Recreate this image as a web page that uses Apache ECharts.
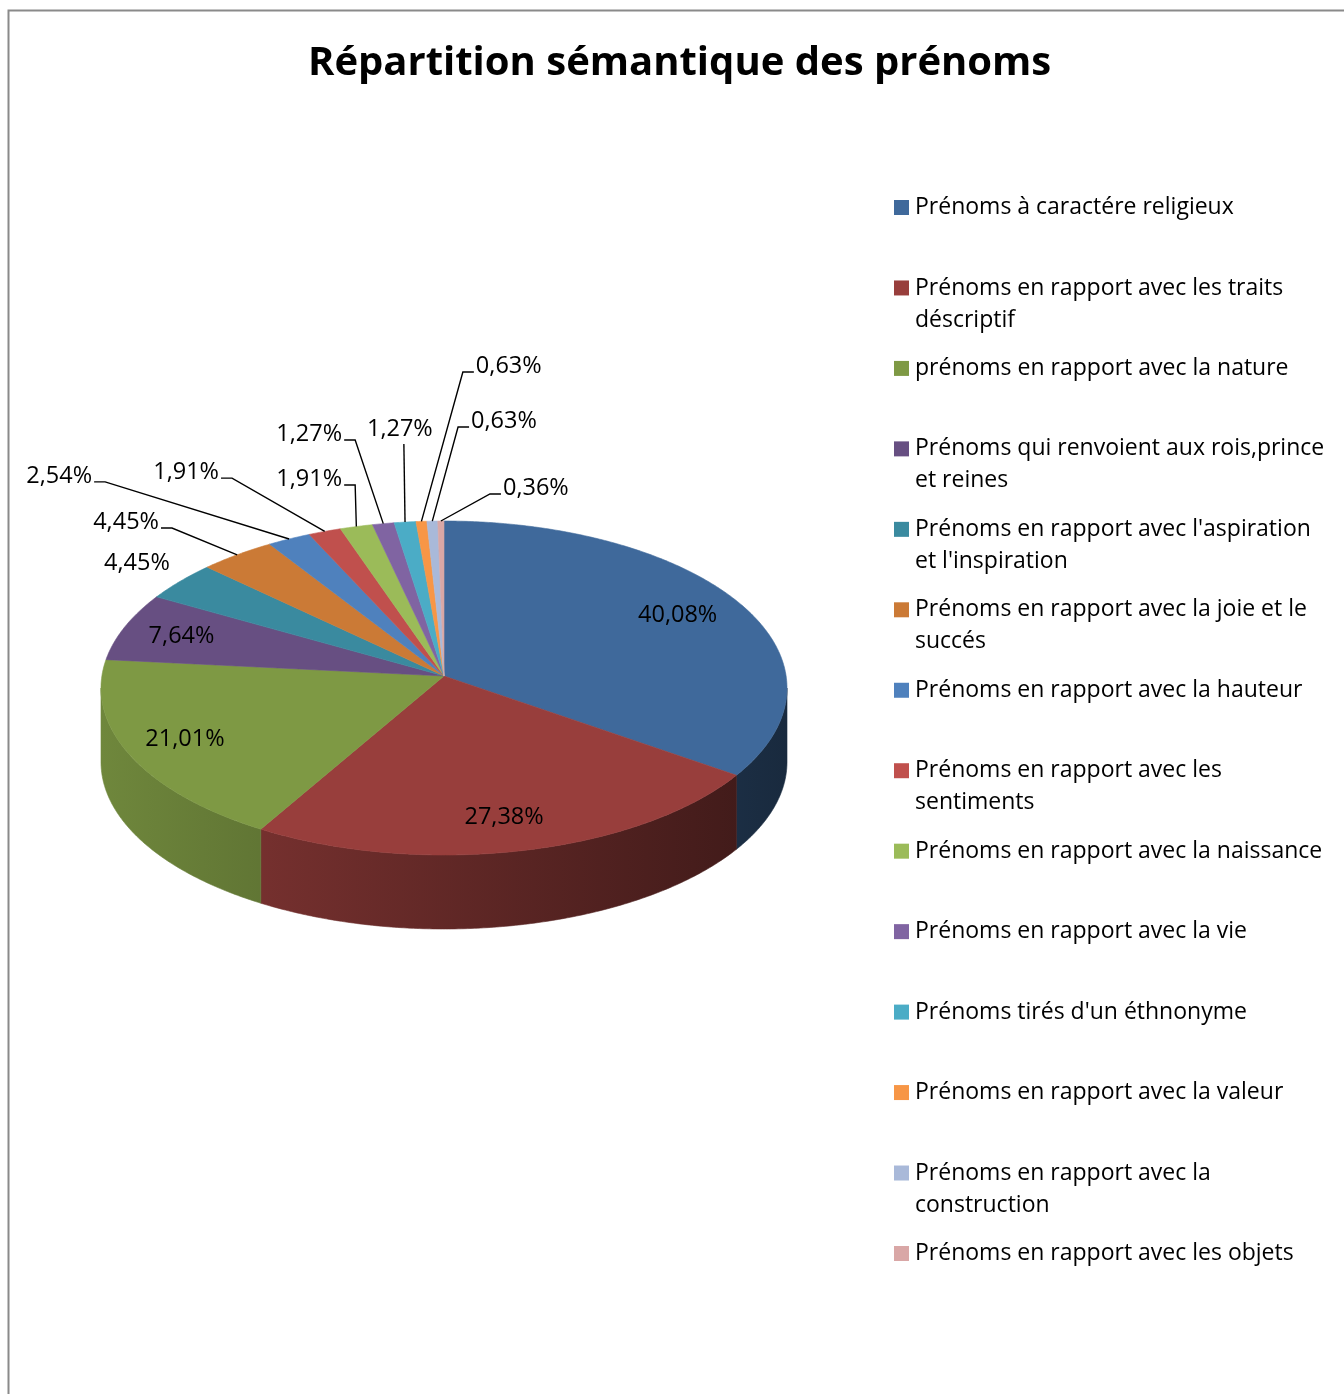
<!DOCTYPE html>
<html>
<head>
<meta charset="utf-8">
<script src="https://cdn.jsdelivr.net/npm/echarts@6/dist/echarts.min.js"></script>
<style>
html,body{margin:0;padding:0;background:#ffffff;}
#chart{width:1344px;height:1394px;}
</style>
</head>
<body>
<div id="chart"></div>
<script>
// ---------- data ----------
const categories = [
  "Prénoms à caractére religieux",
  "Prénoms en rapport avec les traits\ndéscriptif",
  "prénoms en rapport avec la nature",
  "Prénoms qui renvoient aux rois,prince\net reines",
  "Prénoms en rapport avec l'aspiration\net l'inspiration",
  "Prénoms en rapport avec la joie et le\nsuccés",
  "Prénoms en rapport avec la hauteur",
  "Prénoms en rapport avec les\nsentiments",
  "Prénoms en rapport avec la naissance",
  "Prénoms en rapport avec la vie",
  "Prénoms tirés d'un éthnonyme",
  "Prénoms en rapport avec la valeur",
  "Prénoms en rapport avec la\nconstruction",
  "Prénoms en rapport avec les objets"
];
const values = [40.08, 27.38, 21.01, 7.64, 4.45, 4.45, 2.54, 1.91, 1.91, 1.27, 1.27, 0.63, 0.63, 0.36];
const colors = ['#3F699B','#983E3C','#7E9944','#674F82','#3A8A9F','#CB7A36','#4F81BD','#C0504D','#9BBB59','#8064A2','#4BACC6','#F79646','#A9B9D9','#D9A7A6'];
const titleText = "Répartition sémantique des prénoms";

// ---------- layout (not data) ----------
const PIE = { cx: 444, cy: 688, rx: 343, ry: 167, vertexDy: -12, depth: 74 };
// outside-label elbow placement, in pie-normalised units (relative to ellipse centre)
const labelPlace = [
  null, null, null, null,
  { mode: 'free',  x: -0.895, y: -0.749 },
  { mode: 'left',  x: -0.793, y: -0.958 },
  { mode: 'left',  x: -0.988, y: -1.234 },
  { mode: 'left',  x: -0.618, y: -1.257 },
  { mode: 'left',  x: -0.259, y: -1.216 },
  { mode: 'left',  x: -0.259, y: -1.485 },
  { mode: 'up',    x: -0.117, y: -1.461 },
  { mode: 'right', x:  0.055, y: -1.892 },
  { mode: 'right', x:  0.041, y: -1.563 },
  { mode: 'right', x:  0.134, y: -1.162 }
];
const FONT = '"Open Sans", "Noto Sans", sans-serif';
const LABEL_FONT = '23.5px ' + FONT;
const LEGEND_FONT = '23px ' + FONT;

const total = values.reduce((a, b) => a + b, 0);
const cumStart = [];
values.reduce((acc, v, i) => { cumStart[i] = acc; return acc + v; }, 0);

function shade(hex, f) {
  const n = parseInt(hex.slice(1), 16);
  const r = Math.round(((n >> 16) & 255) * f), g = Math.round(((n >> 8) & 255) * f), b = Math.round((n & 255) * f);
  return 'rgb(' + r + ',' + g + ',' + b + ')';
}
const vy = PIE.vertexDy / PIE.ry;
function normEdge(theta) {
  const r = theta * Math.PI / 180;
  const dx = Math.sin(r), dy = -Math.cos(r);
  const b = vy * dy;
  const t = -b + Math.sqrt(b * b - vy * vy + 1);
  return { u: t * dx, v: vy + t * dy, t: t, dx: dx, dy: dy };
}
function px(u, v) { return [PIE.cx + PIE.rx * u, PIE.cy + PIE.ry * v]; }
function edgePt(theta) { const e = normEdge(theta); return px(e.u, e.v); }
function arc(a0, a1) {
  const pts = [];
  const n = Math.max(2, Math.ceil((a1 - a0) / 0.5));
  for (let k = 0; k <= n; k++) pts.push(edgePt(a0 + (a1 - a0) * k / n));
  return pts;
}
const thR = 90 + Math.atan(-vy) * 180 / Math.PI;
const thL = 270 - Math.atan(-vy) * 180 / Math.PI;
const fmt = v => v.toFixed(2).replace('.', ',') + '%';

function renderItem(params, api) {
  const i = params.dataIndex;
  const v = api.value(0);
  const s = cumStart[i] / total * 360;
  const e = s + v / total * 360;
  const col = colors[i];
  const children = [];
  const vertex = px(0, vy);

  // side wall (front part only)
  const w0 = Math.max(s, thR), w1 = Math.min(e, thL);
  if (w1 > w0) {
    const top = arc(w0, w1);
    const bot = top.map(p => [p[0], p[1] + PIE.depth]).reverse();
    const grad = new echarts.graphic.LinearGradient(PIE.cx - PIE.rx, 0, PIE.cx + PIE.rx, 0, [
      { offset: 0, color: shade(col, 0.88) },
      { offset: 1, color: shade(col, 0.40) }
    ], true);
    children.push({ type: 'polygon', shape: { points: top.concat(bot) }, style: { fill: grad, stroke: grad, lineWidth: 0.6 }, z2: 1 });
  }
  // top face
  const pts = [vertex].concat(arc(s, e));
  children.push({ type: 'polygon', shape: { points: pts }, style: { fill: col, stroke: col, lineWidth: 0.6 }, z2: 2 });

  // labels
  const txt = fmt(v);
  const mid = (s + e) / 2;
  const place = labelPlace[i];
  const tstyle = { text: txt, fill: '#000', font: LABEL_FONT };
  if (!place) {
    const ne = normEdge(mid);
    const f = 0.81;
    const p = px(ne.dx * ne.t * f, vy + ne.dy * ne.t * f);
    children.push({ type: 'text', style: Object.assign({}, tstyle, { x: p[0] - 4, y: p[1], align: 'center', verticalAlign: 'middle' }), z2: 10 });
  } else {
    const el = px(place.x, place.y);
    const anchor = edgePt(mid);
    if (place.mode === 'free') {
      children.push({ type: 'text', style: Object.assign({}, tstyle, { x: el[0], y: el[1], align: 'center', verticalAlign: 'middle' }), z2: 10 });
    } else {
      let line, tx, ty, ta;
      if (place.mode === 'left') {
        line = [anchor, el, [el[0] - 11, el[1]]];
        tx = el[0] - 13; ty = el[1] - 6; ta = 'right';
      } else if (place.mode === 'right') {
        line = [anchor, el, [el[0] + 11, el[1]]];
        tx = el[0] + 13; ty = el[1] - 6; ta = 'left';
      } else {
        line = [anchor, el];
        tx = el[0] - 4; ty = el[1] - 15; ta = 'center';
      }
      children.push({ type: 'polyline', shape: { points: line }, style: { stroke: '#000', lineWidth: 1.4, fill: null }, z2: 9 });
      children.push({ type: 'text', style: Object.assign({}, tstyle, { x: tx, y: ty, align: ta, verticalAlign: 'middle' }), z2: 10 });
    }
  }
  return { type: 'group', children: children };
}

// legend built from the categories
const legendEls = [];
categories.forEach((name, i) => {
  const y0 = 200 + i * 80.46;
  legendEls.push({ type: 'rect', shape: { x: 894, y: y0, width: 15, height: 15 }, style: { fill: colors[i] } });
  legendEls.push({ type: 'text', style: { text: name, x: 915, y: y0 + 7.5 - 16, font: LEGEND_FONT, fill: '#000', lineHeight: 32, verticalAlign: 'top' } });
});
// chart frame
legendEls.unshift({ type: 'rect', shape: { x: 8.5, y: 10.5, width: 1400, height: 1420 }, style: { fill: null, stroke: '#8a8a8a', lineWidth: 2 }, silent: true });

const chart = echarts.init(document.getElementById('chart'), null, { renderer: 'canvas' });
chart.setOption({
  animation: false,
  backgroundColor: '#ffffff',
  title: {
    text: titleText, left: 308, top: 44, padding: 0,
    textStyle: { fontFamily: FONT, fontSize: 40, fontWeight: 'bold', color: '#000' }
  },
  graphic: { elements: legendEls },
  series: [{
    type: 'custom',
    coordinateSystem: 'none',
    renderItem: renderItem,
    data: values.map((v, i) => ({ value: [v], name: categories[i] }))
  }]
});
</script>
</body>
</html>
